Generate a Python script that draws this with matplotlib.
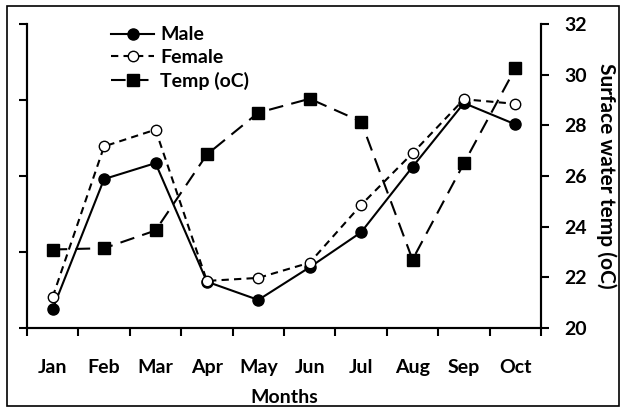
import matplotlib
matplotlib.use("Agg")
import matplotlib.pyplot as plt
from matplotlib.patches import Rectangle

months = ['Jan', 'Feb', 'Mar', 'Apr', 'May', 'Jun', 'Jul', 'Aug', 'Sep', 'Oct']
male = [0.25, 1.96, 2.17, 0.61, 0.37, 0.80, 1.26, 2.12, 2.96, 2.68]
female = [0.41, 2.39, 2.61, 0.62, 0.66, 0.86, 1.62, 2.30, 3.01, 2.95]
temp = [23.1, 23.15, 23.85, 26.85, 28.5, 29.05, 28.15, 22.7, 26.5, 30.25]

plt.rcParams['font.family'] = ['Lato', 'DejaVu Sans']
plt.rcParams['font.weight'] = 'bold'
fs = 14

fig = plt.figure(figsize=(6.22, 4.07), dpi=100)
ax = fig.add_axes([0.0434, 0.194, 0.8264, 0.747])
ax2 = ax.twinx()

x = [i + 0.5 for i in range(len(months))]

l1, = ax.plot(x, male, color='black', lw=1.5, marker='o', ms=8,
              mfc='black', mec='black', label='Male')
l2, = ax.plot(x, female, color='black', lw=1.5, ls=(0, (3.5, 2.5)), marker='o', ms=7.5,
              mfc='white', mec='black', mew=1.0, label='Female')
l3, = ax2.plot(x, temp, color='black', lw=1.5, ls=(0, (7, 4)), marker='s', ms=8,
               mfc='black', mec='black', label='Temp (oC)')

ax.set_xlim(0, 10)
ax.set_ylim(0, 4)
ax.set_yticks([0, 1, 2, 3, 4])
ax.set_yticklabels([])
ax.set_xticks(range(11))
ax.set_xticklabels([])
ax.set_xticks(x, minor=True)
ax.set_xticklabels(months, minor=True, fontsize=fs, fontweight='bold')
ax.tick_params(axis='x', which='minor', length=0, pad=22)
ax.tick_params(axis='x', which='major', direction='out', length=6, width=1.5)
ax.tick_params(axis='y', direction='out', length=6, width=1.5)

ax2.set_ylim(20, 32)
ax2.set_yticks([20, 22, 24, 26, 28, 30, 32])
ax2.tick_params(axis='y', direction='out', length=6, width=1.5, labelsize=fs, pad=11)
for t in ax2.get_yticklabels():
    t.set_fontweight('bold')
ax2.set_ylabel('Surface water temp (oC)', rotation=-90, labelpad=21,
               fontsize=15, fontweight='bold')

for a in (ax, ax2):
    a.spines['top'].set_visible(False)
    for s in ('left', 'right', 'bottom'):
        a.spines[s].set_linewidth(1.5)

ax.set_xlabel('Months', fontsize=fs, fontweight='bold', labelpad=10)

ax2.legend(handles=[l1, l2, l3], loc='upper left', bbox_to_anchor=(0.13, 1.05),
           frameon=False, handlelength=2.2, handletextpad=0.3,
           labelspacing=0.3, prop={'weight': 'bold', 'size': fs})

fig.patches.append(Rectangle((0.011, 0.003), 0.984, 0.982, transform=fig.transFigure,
                             fill=False, edgecolor='black', lw=1.2))

fig.savefig('out.png', dpi=100)
